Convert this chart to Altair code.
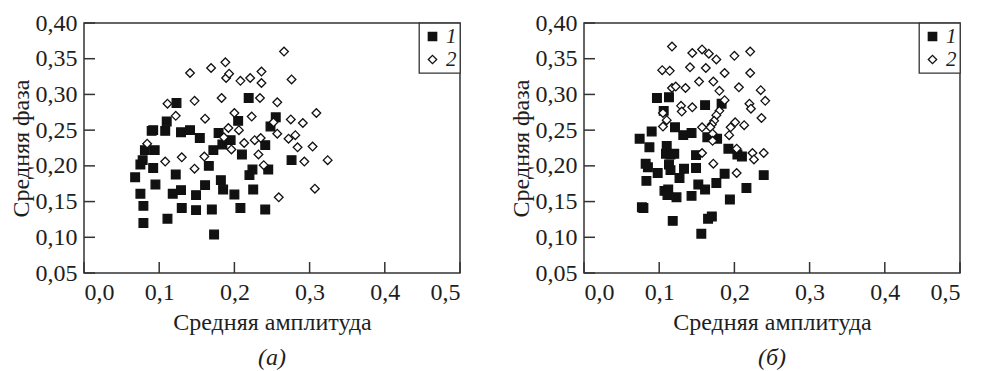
import altair as alt
import pandas as pd

# ---- panel (а) ----
a_x1 = [0.068, 0.075, 0.075, 0.078, 0.079, 0.079, 0.081, 0.090, 0.092, 0.094, 0.092, 0.095, 0.108,
        0.110, 0.111, 0.122, 0.123, 0.118, 0.129, 0.129, 0.130, 0.141, 0.149, 0.149, 0.154, 0.161,
        0.166, 0.170, 0.172, 0.173, 0.179, 0.182, 0.185, 0.184, 0.195, 0.200, 0.205, 0.210, 0.208,
        0.219, 0.220, 0.224, 0.225, 0.241, 0.241, 0.245, 0.248, 0.255, 0.276]
a_y1 = [0.184, 0.161, 0.202, 0.208, 0.144, 0.120, 0.222, 0.249, 0.250, 0.222, 0.197, 0.174, 0.249,
        0.262, 0.126, 0.188, 0.288, 0.161, 0.247, 0.166, 0.141, 0.250, 0.159, 0.138, 0.239, 0.173,
        0.200, 0.139, 0.222, 0.104, 0.246, 0.180, 0.167, 0.230, 0.236, 0.160, 0.263, 0.216, 0.141,
        0.295, 0.187, 0.195, 0.167, 0.229, 0.139, 0.195, 0.255, 0.268, 0.208]
a_x2 = [0.084, 0.108, 0.111, 0.122, 0.130, 0.141, 0.147, 0.147, 0.161, 0.160, 0.169, 0.183, 0.186,
        0.188, 0.189, 0.193, 0.192, 0.196, 0.200, 0.206, 0.208, 0.213, 0.221, 0.223, 0.227, 0.232,
        0.235, 0.234, 0.236, 0.236, 0.239, 0.257, 0.257, 0.252, 0.259, 0.266, 0.272, 0.275, 0.276,
        0.281, 0.284, 0.291, 0.293, 0.304, 0.307, 0.309, 0.324]
a_y2 = [0.231, 0.206, 0.287, 0.270, 0.212, 0.330, 0.291, 0.196, 0.266, 0.213, 0.337, 0.295, 0.240,
        0.345, 0.323, 0.329, 0.253, 0.223, 0.274, 0.250, 0.319, 0.232, 0.323, 0.269, 0.236, 0.216,
        0.239, 0.295, 0.332, 0.316, 0.201, 0.289, 0.245, 0.261, 0.156, 0.360, 0.238, 0.265, 0.321,
        0.243, 0.226, 0.260, 0.206, 0.227, 0.168, 0.274, 0.208]

# ---- panel (б) ----
b_x1 = [0.074, 0.077, 0.079, 0.082, 0.085, 0.083, 0.087, 0.090, 0.098, 0.097, 0.106, 0.107, 0.110,
        0.109, 0.112, 0.111, 0.113, 0.113, 0.115, 0.115, 0.120, 0.121, 0.118, 0.123, 0.127, 0.132,
        0.133, 0.143, 0.143, 0.149, 0.149, 0.152, 0.156, 0.161, 0.161, 0.164, 0.165, 0.170, 0.177,
        0.176, 0.183, 0.187, 0.192, 0.194, 0.204, 0.210, 0.216, 0.239]
b_y1 = [0.238, 0.142, 0.141, 0.203, 0.198, 0.179, 0.226, 0.248, 0.190, 0.295, 0.277, 0.165, 0.228,
        0.217, 0.167, 0.159, 0.296, 0.202, 0.194, 0.216, 0.217, 0.254, 0.123, 0.156, 0.183, 0.243,
        0.196, 0.246, 0.158, 0.215, 0.197, 0.174, 0.105, 0.167, 0.285, 0.240, 0.126, 0.129, 0.238,
        0.176, 0.287, 0.189, 0.224, 0.153, 0.216, 0.213, 0.169, 0.187]
b_x2 = [0.117, 0.104, 0.114, 0.117, 0.122, 0.135, 0.105, 0.110, 0.105, 0.129, 0.130, 0.144, 0.141,
        0.144, 0.157, 0.153, 0.166, 0.162, 0.176, 0.172, 0.180, 0.187, 0.187, 0.200, 0.206, 0.221,
        0.221, 0.235, 0.241, 0.220, 0.222, 0.236, 0.213, 0.201, 0.195, 0.193, 0.180, 0.176, 0.173,
        0.170, 0.168, 0.157, 0.171, 0.171, 0.157, 0.172, 0.203, 0.224, 0.226, 0.239, 0.203]
b_y2 = [0.367, 0.334, 0.333, 0.309, 0.311, 0.309, 0.274, 0.264, 0.255, 0.284, 0.276, 0.282, 0.338,
        0.358, 0.363, 0.318, 0.357, 0.337, 0.349, 0.318, 0.305, 0.330, 0.292, 0.354, 0.310, 0.360,
        0.330, 0.306, 0.291, 0.287, 0.280, 0.267, 0.257, 0.261, 0.254, 0.243, 0.277, 0.271, 0.263,
        0.258, 0.254, 0.254, 0.245, 0.235, 0.218, 0.203, 0.224, 0.218, 0.209, 0.218, 0.190]

series_names = ["1", "2"]
captions = ["(а)", "(б)"]
x_ticks = [0.0, 0.1, 0.2, 0.3, 0.4, 0.5]
y_ticks = [0.05, 0.10, 0.15, 0.20, 0.25, 0.30, 0.35, 0.40]

FONT = "Liberation Serif"
FS = 24
INK = "#1e1e1e"
AXC = "#333333"
W, H = 376, 250
TICK_PX = 11  # inward tick length in pixels

X_DOM = [x_ticks[0], x_ticks[-1]]
Y_DOM = [y_ticks[0], y_ticks[-1]]
# tick length converted to data units of each scale
X_TLEN = TICK_PX / W * (X_DOM[1] - X_DOM[0])
Y_TLEN = TICK_PX / H * (Y_DOM[1] - Y_DOM[0])


def panel(x1, y1, x2, y2, caption):
    df = pd.DataFrame({
        "x": x1 + x2,
        "y": y1 + y2,
        "s": [series_names[0]] * len(x1) + [series_names[1]] * len(x2),
    })
    xs = alt.Scale(domain=X_DOM, nice=False, zero=False)
    ys = alt.Scale(domain=Y_DOM, nice=False, zero=False)
    x_axis = alt.Axis(title="Средняя амплитуда", values=x_ticks,
                      labelExpr="replace(format(datum.value, '.1f'), '.', ',')")
    y_axis = alt.Axis(title="Средняя фаза", values=y_ticks,
                      labelExpr="replace(format(datum.value, '.2f'), '.', ',')")
    legend = alt.Legend(title=None, padding=3)
    pts = alt.Chart(df).mark_point(strokeWidth=1.3, opacity=1, size=75).encode(
        x=alt.X("x:Q", scale=xs, axis=x_axis),
        y=alt.Y("y:Q", scale=ys, axis=y_axis),
        shape=alt.Shape("s:N", scale=alt.Scale(domain=series_names, range=["square", "diamond"]),
                        legend=legend),
        fill=alt.Fill("s:N", scale=alt.Scale(domain=series_names, range=["#111111", "#ffffff"]),
                      legend=legend),
        stroke=alt.Stroke("s:N", scale=alt.Scale(domain=series_names, range=["#111111", "#111111"]),
                          legend=legend),
    )
    ytick_df = pd.DataFrame({"y": y_ticks, "x": [X_DOM[0]] * len(y_ticks),
                             "x2": [X_DOM[0] + X_TLEN] * len(y_ticks)})
    xtick_df = pd.DataFrame({"x": x_ticks, "y": [Y_DOM[0]] * len(x_ticks),
                             "y2": [Y_DOM[0] + Y_TLEN] * len(x_ticks)})
    yt = alt.Chart(ytick_df).mark_rule(color=AXC, strokeWidth=1.5).encode(
        x=alt.X("x:Q", scale=xs, axis=None), x2="x2:Q",
        y=alt.Y("y:Q", scale=ys, axis=None))
    xt = alt.Chart(xtick_df).mark_rule(color=AXC, strokeWidth=1.5).encode(
        x=alt.X("x:Q", scale=xs, axis=None),
        y=alt.Y("y:Q", scale=ys, axis=None), y2="y2:Q")
    return alt.layer(pts, yt, xt).resolve_axis(x="independent", y="independent").properties(
        width=W, height=H,
        title=alt.TitleParams(caption, orient="bottom", anchor="middle", offset=12),
    )


chart = alt.hconcat(
    panel(a_x1, a_y1, a_x2, a_y2, captions[0]),
    panel(b_x1, b_y1, b_x2, b_y2, captions[1]),
    spacing=46,
).resolve_scale(
    shape="independent", fill="independent", stroke="independent",
).resolve_legend(
    shape="independent", fill="independent", stroke="independent",
).properties(
    padding={"left": 0, "top": 2, "right": 0, "bottom": 0},
    background="white",
).configure_view(
    stroke=AXC, strokeWidth=1.5,
).configure_axis(
    domain=False, ticks=False, grid=False,
    labelFont=FONT, labelFontSize=FS, labelColor=INK,
    titleFont=FONT, titleFontSize=FS, titleFontWeight="normal", titleColor=INK,
).configure_axisX(
    labelPadding=7, titlePadding=6,
).configure_axisY(
    labelPadding=7, titlePadding=2,
).configure_legend(
    orient="top-right", offset=0, strokeColor=AXC, strokeWidth=1.3,
    fillColor="white", labelFont=FONT, labelFontSize=21, labelFontStyle="italic",
    labelColor=INK, symbolSize=70, symbolStrokeWidth=1.3,
    rowPadding=1, labelOffset=3,
).configure_title(
    font=FONT, fontSize=FS, fontStyle="italic", fontWeight="normal", color=INK,
)

chart.save("out.html", embed_options={"renderer": "svg", "actions": False})
